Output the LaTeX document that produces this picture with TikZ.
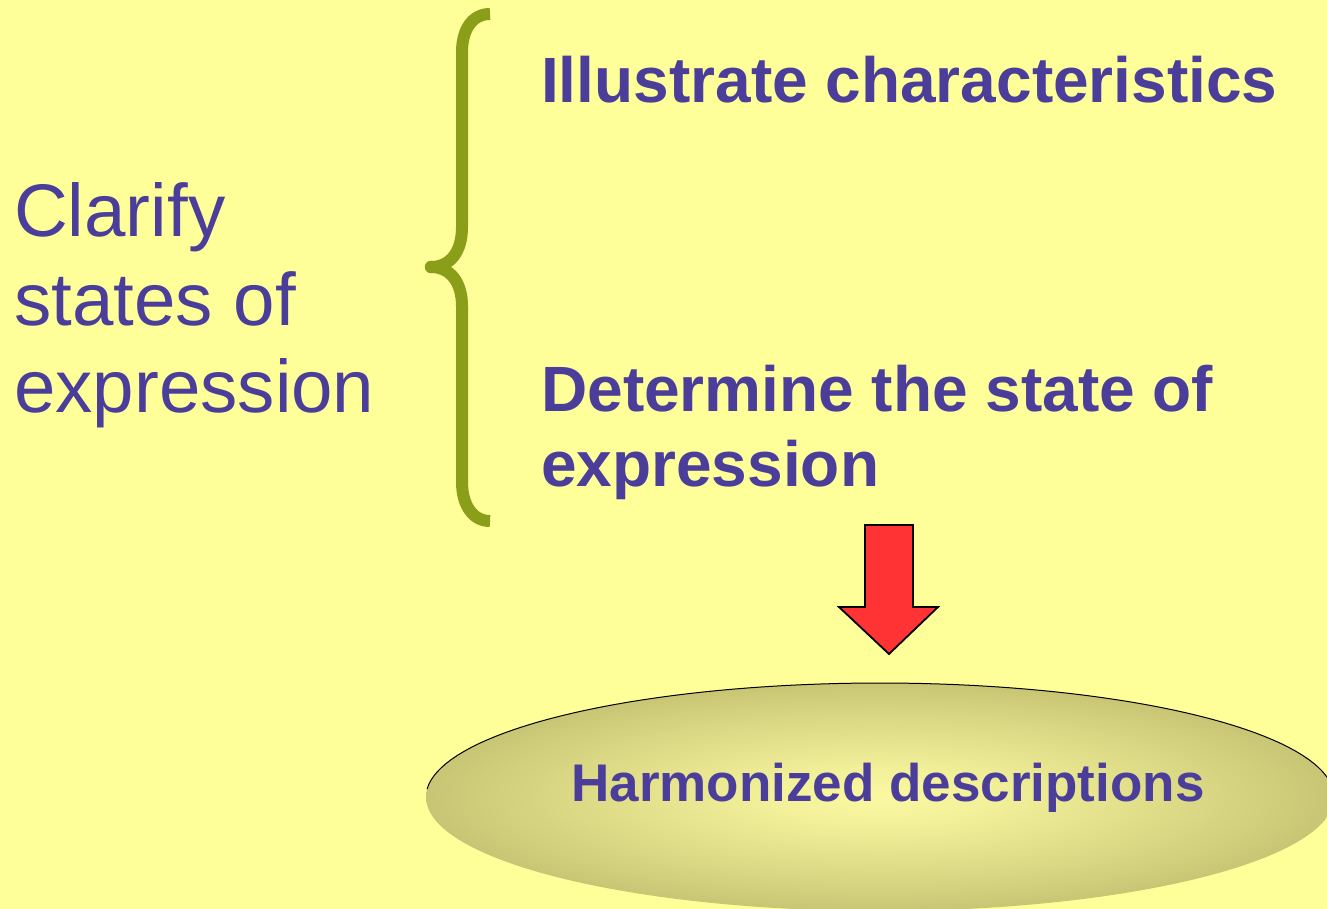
\documentclass[tikz,border=0pt]{standalone}
\usepackage{fontspec}
\setmainfont{Liberation Sans}
\usetikzlibrary{positioning,shapes,arrows.meta}
\definecolor{slidebg}{RGB}{255,255,153}
\definecolor{inkblue}{RGB}{74,62,154}
\definecolor{braceolive}{RGB}{138,158,26}
\definecolor{arrowred}{RGB}{255,51,51}
\definecolor{ovalout}{RGB}{200,197,116}
\definecolor{ovalin}{RGB}{250,248,160}
\pgfdeclareradialshading{ovalshade}{\pgfpoint{0bp}{0bp}}{%
      color(0bp)=(ovalin); color(6bp)=(ovalin!85!ovalout);
      color(18bp)=(ovalin!35!ovalout); color(25bp)=(ovalout); color(50bp)=(ovalout)}
\tikzstyle{big}=[%
      inner sep=0pt, anchor=base west, text=inkblue,
      font=\fontsize{74.5}{88}\selectfont
]
\tikzstyle{bold}=[%
      inner sep=0pt, anchor=base west, text=inkblue,
      font=\bfseries\fontsize{64}{76}\selectfont
]
\tikzstyle{brace}=[%
      draw=braceolive, line width=12pt, line join=round
]
\tikzstyle{downarrow}=[%
      draw=black, line width=1.8pt, fill=arrowred, line join=miter
]
\begin{document}
\begin{tikzpicture}[x=1pt, y=-1pt]
    \clip (0,0) rectangle (1327,909);
    \fill[slidebg] (0,0) rectangle (1327,909);

    % left text
    \node[big] (clarify) at (14,237) {Clarify};
    \node[big] (states)  at (14,325) {states of};
    \node[big] (expr)    at (14,412) {expression};

    % the brace
    \draw[brace] (490,14) .. controls (472,14) and (462,30) .. (462,52)
        -- (462,227) .. controls (462,252) and (450,267) .. (431,267)
        .. controls (450,267) and (462,282) .. (462,306)
        -- (462,482) .. controls (462,504) and (472,521) .. (490,521);
    \draw[braceolive, fill=braceolive] (431,267) circle (6pt);

    % right text
    \node[bold] (illustrate) at (541,103) {Illustrate characteristics};
    \node[bold] (determine)  at (541,411) {Determine the state of};
    \node[bold] (expression) at (541,486) {expression};

    % red arrow
    \draw[downarrow] (865,525) -- (913,525) -- (913,607) -- (938,607)
        -- (889,654) -- (839,607) -- (865,607) -- cycle;

    % oval
    \shade[shading=ovalshade]
        (880,797) ellipse [x radius=454pt, y radius=114pt];
    \draw[black, line width=1pt] plot[domain=184:356, samples=80]
        ({880+454*cos(\x)},{797+114*sin(\x)});
    \node[inner sep=0pt, anchor=base, text=inkblue,
          font=\bfseries\fontsize{53}{60}\selectfont]
        (harmonized) at (888,801) {Harmonized descriptions};
\end{tikzpicture}
\end{document}
